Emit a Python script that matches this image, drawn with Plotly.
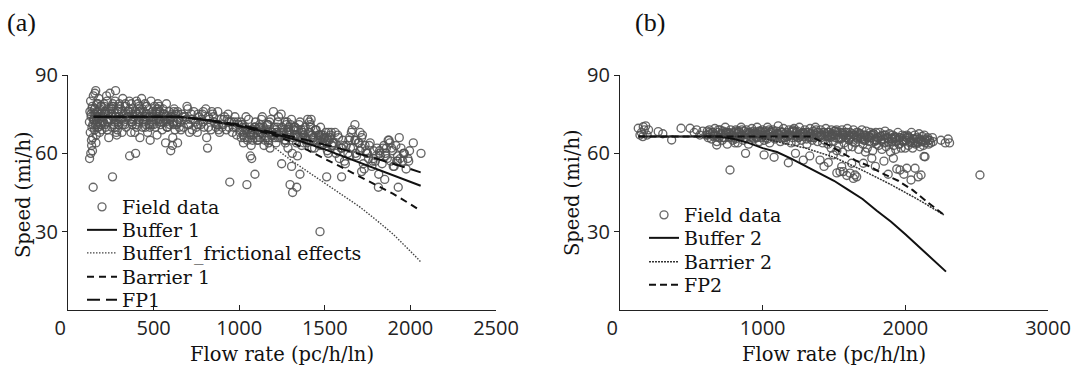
import plotly.graph_objects as go

# ---------------- data : panel (a) ----------------
flow_a = [
    125,128,130,132,135,138,140,142,145,148, 150,152,155,158,160,162,165,168,170,172,
    175,178,180,182,185,188,190,192,195,198, 126,133,137,143,147,153,157,163,167,173,
    205,210,215,220,225,230,235,240,245,250, 255,260,265,270,275,280,285,290,295,300,
    305,310,315,320,325,330,335,340,345,350, 208,218,228,238,248,258,268,278,288,298,
    212,232,252,272,292,312,332,242,262,282,
    355,360,365,370,375,380,385,390,395,400, 405,410,415,420,425,430,435,440,445,450,
    455,460,465,470,475,480,485,490,495,500, 505,510,515,520,525,530,535,540,545,550,
    555,560,565,570,575,580,585,590,595,600, 605,610,615,620,625,630,635,640,645,650,
    358,378,398,418,438,458,478,498,518,538, 558,578,598,618,638,368,408,448,488,528,
    568,608,372,412,452,492,532,572,612,642,
    655,665,675,685,695,705,715,725,735,745, 755,765,775,785,795,805,815,825,835,845,
    855,865,875,885,895,905,915,925,935,945, 955,965,975,985,995,660,690,720,750,780,
    810,840,870,900,930,960,990,700,760,820, 880,940,980,710,790,
    1005,1015,1025,1035,1045,1055,1065,1075,1085,1095, 1105,1115,1125,1135,1145,1155,1165,1175,1185,1195,
    1205,1215,1225,1235,1245,1255,1265,1275,1285,1295, 1305,1315,1325,1335,1345,1355,1365,1375,1385,1395,
    1405,1415,1425,1435,1445,1455,1465,1475,1485,1495, 1505,1515,1525,1535,1545,1010,1030,1050,1070,1090,
    1110,1130,1150,1170,1190,1210,1230,1250,1270,1290, 1310,1330,1350,1370,1390,1410,1430,1450,1470,1490,
    1510,1530,1020,1060,1100,1140,1180,1220,1260,1300, 1340,1380,1420,1460,1500,1540,1040,1080,1120,1160,
    1200,1240,1280,1320,1360,1400,1440,1480,1520,1550, 1045,1073,1092,1248,1297,1312,1336,1355,1306,1472,
    1555,1565,1575,1585,1595,1605,1615,1625,1635,1645, 1655,1665,1675,1685,1695,1705,1715,1725,1735,1745,
    1755,1765,1775,1785,1795,1805,1815,1825,1835,1845, 1855,1865,1875,1885,1895,1905,1915,1925,1935,1945,
    1955,1965,1975,1985,1995,1560,1600,1640,1680,1720, 1760,1800,1840,1880,1920,1960,1580,1620,1660,1700,
    1740,1780,1820,1860,1900,1940,1511,1598,1715,1813, 1929,2017,2062,1676,1706,1990,1870,1650,1730,1850,
    135,145,155,165,175,185,195,215,235,255, 275,295,315,335,355,375,395,415,435,455,
    475,495,515,535,555,575,595,615,635,
    1012,1038,1062,1088,1112,1138,1162,1188,1212,1238, 1262,1288,1312,1338,1362,1388,1412,1438,1462,1488,
    1512,1538,
    1018,1068,1118,1168,1218,1268,1318,1368,1418,1468, 1518,
    1028,1078,1128,1178,1228,1278,1328,1378,1428,1478,
    140,150,160,170,180,190,200,220,240,260, 280,300,320,340,360,380,400,420,440,460,
    480,500,520,540,560,580,600,620,640,
    670,700,730,760,790,820,850,880,910,940, 970,
    1005,1025,1048,1072,1095,1122,1145,1172,1195,1222, 1245,1272,1295,1322,1345,1372,1395,1422,1445,1472,
    1495,1522,1545,
    1575,1610,1645,1680,1715,1750,1785,1820,1855,1890, 1925,1960,
]
speed_a = [
    72,76,68,80,74,63,70,78,66,82, 73,75,69,77,71,84,67,79,74,72,
    76,70,81,73,68,77,75,71,78,69, 58,60,65,61,47,73,83,64,76,70,
    74,79,71,76,82,69,75,73,83,77, 70,51,78,72,80,74,67,76,71,79,
    73,77,68,81,75,72,78,70,74,76, 72,75,80,66,73,77,71,84,69,74,
    78,72,75,70,77,73,71,76,79,68,
    76,59,73,79,71,77,74,68,60,80, 75,72,78,66,74,81,70,76,73,79,
    71,75,68,77,74,65,80,72,76,73, 78,70,75,67,79,73,76,71,74,69,
    77,72,75,64,79,70,73,76,71,61, 74,63,72,77,69,75,71,64,73,70,
    80,75,71,77,73,78,70,74,76,72, 75,70,73,76,72,68,79,74,71,77,
    73,75,72,76,70,74,78,72,66,75,
    72,75,70,74,78,71,73,69,76,72, 68,74,71,75,70,77,62,73,69,75,
    72,70,76,68,73,71,74,69,75,49, 72,70,74,67,71,69,73,75,70,73,
    66,76,71,70,73,68,72,77,71,74, 69,72,70,68,76,
    68,71,64,70,66,73,59,69,67,72, 65,70,68,74,63,69,71,66,73,68,
    70,64,72,67,75,69,65,71,62,68, 73,66,70,64,69,72,63,67,70,65,
    68,71,62,66,69,64,67,70,63,66, 68,61,65,67,64,72,66,69,63,70,
    67,73,65,71,68,66,74,70,64,69, 60,67,71,68,65,72,66,69,63,67,
    64,66,70,68,66,70,62,68,67,71, 59,69,73,65,66,63,74,69,71,66,
    76,68,72,70,66,73,62,67,60,64, 48,58,52,56,48,45,47,52,55,30,
    64,60,67,58,62,65,57,63,60,66, 68,62,65,59,64,61,66,56,63,60,
    58,64,55,61,57,62,52,59,56,63, 60,58,65,57,61,55,63,59,66,62,
    57,60,54,58,61,68,62,65,60,67, 63,59,62,64,57,60,66,56,69,64,
    61,57,60,62,55,58,51,51,53,47, 47,64,60,71,68,57,65,62,54,50,
    75,71,77,73,79,72,74,76,73,78, 74,72,76,79,74,72,76,73,77,74,
    71,75,73,76,72,74,73,71,72,
    66,69,67,70,65,68,71,67,69,66, 68,70,65,67,69,66,68,65,67,64,
    66,68,
    71,67,70,65,68,72,69,66,70,67, 65,
    68,65,69,72,66,68,70,64,67,66,
    77,73,75,71,74,78,72,70,77,74, 73,78,71,75,77,73,70,76,72,78,
    74,71,77,73,75,70,74,72,76,
    74,71,73,75,72,70,74,71,73,70, 72,
    69,67,65,68,70,66,69,64,67,70, 68,65,67,69,66,68,64,67,69,65,
    66,68,63,
    61,63,59,65,62,60,58,61,59,62, 57,60,
]

buffer1_x = [150, 650, 800, 1000, 1200, 1350, 1500, 1650, 1800, 1950, 2060]
buffer1_y = [74, 74, 72.8, 70.5, 67.5, 64.8, 61.5, 57.8, 54.2, 50.5, 47.6]
fric1_x = [150, 650, 800, 1000, 1100, 1200, 1300, 1400, 1500, 1600, 1700, 1800, 1900, 2000, 2060]
fric1_y = [74, 74, 72.8, 70.5, 67.5, 62.5, 57.5, 53, 48.6, 44.2, 39.7, 34.5, 29, 22.5, 18.5]
barrier1_x = [150, 650, 800, 1000, 1200, 1300, 1400, 1500, 1600, 1700, 1800, 1900, 2000, 2060]
barrier1_y = [74, 74, 72.8, 70.5, 67, 64.5, 61.2, 58, 54.6, 51.2, 48, 44.5, 40.5, 38]
fp1_x = [150, 650, 800, 1000, 1200, 1400, 1600, 1800, 2000, 2060]
fp1_y = [74, 74, 73, 71, 68, 65, 61.6, 58, 54, 52.7]

# ---------------- data : panel (b) ----------------
flow_b = [
    128,140,150,160,163,170,180,190,200,268,300,362,428,491,520,537,560,580,
    603,612,618,627,634,641,650,656,665,671,679,688,694,702,709,717,723,731,738,746,752,761,767,775,782,790,797,
    805,812,820,826,834,841,849,856,864,871,879,886,894,901,909,916,924,931,939,946,954,961,969,976,984,991,998,
    1004,1011,1019,1026,1034,1041,1049,1056,1064,1071,1079,1086,1094,1101,1109,1116,1124,1131,1139,1146,1154,1161,1169,1176,1184,1191,1199,
    1205,1212,1220,1227,1235,1242,1250,1257,1265,1272,1280,1287,1295,1302,1310,1317,1325,1332,1340,1347,1355,1362,1370,1377,1385,1392,1399,
    1406,1413,1421,1428,1436,1443,1451,1458,1466,1473,1481,1488,1496,1503,1511,1518,1526,1533,1541,1548,1556,1563,1571,1578,1586,1593,1599,
    1606,1613,1621,1628,1636,1643,1651,1658,1666,1673,1681,1688,1696,1703,1711,1718,1726,1733,1741,1748,1756,1763,1771,1778,1786,1793,1799,
    1806,1813,1821,1828,1836,1843,1851,1858,1866,1873,1881,1888,1896,1903,1911,1918,1926,1933,1941,1948,1956,1963,1971,1978,1986,1993,1999,
    2006,2013,2021,2028,2036,2043,2051,2058,2066,2073,2081,2088,2096,2103,2111,2118,2126,2133,2141,2148,2156,2163,2171,2178,2190,2250,2280,2300,2310,
    625,660,690,720,745,770,800,830,855,880,905,935,960,990,1015,1045,1070,1100,1125,1150,
    1180,1210,1240,1265,1290,1320,1345,1375,1400,1430,1455,1480,1510,1535,1560,1590,1615,1640,1670,1695,
    1720,1750,1775,1800,1830,1855,1880,1910,1935,1960,1990,2020,2050,2080,2110,2140,1480,1520,1560,1600,
    678,771,806,880,1010,1080,1180,1230,1285,1330,1402,1430,1460,1495,1520,1542,1554,1565,1590,1612,1624,
    1636,1647,1659,1706,1720,1765,1790,1850,1880,1916,1940,1963,1990,2010,2040,2068,2090,2110,2131,2138,2523,
    708,733,758,783,808,833,858,883,908,933, 958,983,1008,1033,1058,1083,1108,1133,1158,1183,
    1208,1233,1258,1283,1308,1333,1358,1383,1408,1433, 1458,1483,1508,1533,1558,1583,1608,1633,1658,1683,
    1708,1733,1758,1783,1808,1833,1858,1883,1908,1933, 1958,1983,2008,2033,2058,2083,
    615,650,680,715,740,765,790,815,845,870, 895,920,950,975,1000,1030,1055,1085,1110,1140,
    1165,1195,1220,1250,1275,1300,1330,1355,1385,1410, 1440,1465,1495,1520,1550,1575,1605,1630,1660,1685,
    1715,1740,1770,1795,1825,1850,1875,1905,1930,1955, 1985,2015,2045,2070,2100,2125,2160,2195,
]
speed_b = [
    69.6,67,68,66.4,70.2,69,70.5,67,69,68.3,67.5,65.1,69.6,69.6,68,69,67,68.5,
    67,68.5,66,69,67.5,65.5,68,66.5,69.5,67,64.5,68,66,69,67,65,68.5,66,70,67.5,63.5,68,66.5,69,67,65,68,
    66,69,67.5,64,68,66.5,70,67,65,68.5,66,69,67,63.5,68,66.5,69.5,67,65.5,68,66,70,67.5,64.5,68.5,66,69,
    67,65,68.5,66,70,67.5,64,68,66.5,69,67,65.5,68.5,66,70.5,67,64.5,68,66,69.5,67.5,65,68,66.5,69,67,64,
    68,66,69.5,67,64.5,68.5,66,70,67.5,65,68,66.5,69,67,63.5,68,66,69.5,67.5,65,68.5,66,70,67,64.5,68,66.5,
    69,67,64,68,66.5,69.5,67,63.5,68,66,69,67.5,64.5,68.5,66,69,67,63,68,65.5,69,67,64,68,66,69.5,67,
    65,68,66.5,62.5,69,67,64,68,65.5,61.5,67.5,66,69,63.5,67,65,68.5,62,66.5,64.5,68,66,61,67.5,65,68,63.5,
    66,63,68,65,61.5,67,64,68.5,62.5,66,64.5,67.5,60.5,65.5,67,63,66.5,61.5,65,68,63.5,66,62,67,64.5,66.5,62,
    65,67,63,66,64.5,68,62,65.5,67,63.5,66,64,67.5,62.5,65,66.5,63,67,64,65.5,66,63.5,65,64,66,65,64,65.5,64,
    68,67,69,66,68,67.5,66.5,68,69,66,67.5,68.5,66,67,68,69,66.5,67.5,68.5,66,
    67,69,68,66.5,67.5,68,66,69,67,68,66.5,67,68.5,66,67.5,68,66,67,68,65.5,
    67,66,67.5,65,66.5,67,65.5,66,64.5,66,65,66.5,64,65.5,64.5,65,62,61,60.5,62.5,
    63.2,53.6,64,60,59.4,58.5,56.4,60,57.4,59,57.4,55,56.5,59.4,52.5,53,54.9,53,51.5,52.4,56.2,
    50.4,51.7,51,56.2,60.5,58.1,55,57,52,58.1,54,53.6,52,54.3,49.8,54.3,51,51.7,58.8,58.7,51.7,
    67.5,66,68,67,65.5,68.5,67,66,68,67.5, 66.5,68,67,65.5,68.5,66.5,67.5,68,66,67,
    68.5,66.5,67,68,65.5,67.5,66,68,67,65, 68,66.5,67,65.5,68,66,67,64.5,66.5,67.5,
    65,66,67,64.5,66,65,67,64,65.5,66, 63.5,65,66,64,65.5,64.5,
    67,68,66.5,67.5,68,66,67.5,68.5,66.5,67, 68,66,67.5,68.5,66.5,67,68,66,67.5,68,
    66.5,67,68.5,66,67.5,68,66.5,67,68,66, 67.5,66.5,67,68,66,67,65.5,67.5,66,67,
    65.5,66.5,67,65,66.5,65.5,66,64.5,66,65.5, 64.5,66,65,64,65.5,64.5,65,64.5,
]

buffer2_x = [130, 700, 800, 900, 1000, 1100, 1200, 1300, 1400, 1500, 1600, 1700, 1800, 1900, 2000, 2100, 2200, 2285]
buffer2_y = [66.4, 66.4, 65.5, 64, 62, 60.5, 58, 55.2, 52.4, 49.5, 46, 42.5, 38, 33.8, 29, 24, 19.2, 14.7]
barrier2_x = [130, 950, 1100, 1300, 1500, 1700, 1900, 2100, 2270]
barrier2_y = [66.4, 66.4, 64.5, 62, 58.5, 53.5, 48, 42, 36.4]
fp2_x = [130, 1340, 1450, 1550, 1650, 1750, 1850, 1950, 2050, 2150, 2275]
fp2_y = [66.4, 66.4, 63.5, 60.5, 57.3, 55, 52, 49.5, 46, 41.5, 36.3]

x_ticks_a = [0, 500, 1000, 1500, 2000, 2500]
x_ticks_b = [0, 1000, 2000, 3000]
y_ticks = [30, 60, 90]

# ---------------- figure ----------------
W, H = 1073, 376
def fx(p):
    return p / W
def fy(p):
    return 1 - p / H

SERIF = "DejaVu Serif"
SANS = "Open Sans"
INK = "#111111"
marker_style = dict(symbol="circle-open", size=8, color="rgba(82,82,82,0.88)", line=dict(width=1.35))

fig = go.Figure()

leg_a_rows = [207, 230, 253, 277, 300]
leg_b_rows = [215, 238, 262, 285]

traces = [
    dict(x=flow_a, y=speed_a, mode="markers", name="Field data", marker=marker_style, xaxis="x", yaxis="y"),
    dict(x=buffer1_x, y=buffer1_y, mode="lines", name="Buffer 1", line=dict(color=INK, width=2), xaxis="x", yaxis="y"),
    dict(x=fric1_x, y=fric1_y, mode="lines", name="Buffer1_frictional effects",
         line=dict(color="#444", width=1.4, dash="1.5px,1.5px"), xaxis="x", yaxis="y"),
    dict(x=barrier1_x, y=barrier1_y, mode="lines", name="Barrier 1",
         line=dict(color=INK, width=2, dash="7px,5px"), xaxis="x", yaxis="y"),
    dict(x=fp1_x, y=fp1_y, mode="lines", name="FP1", line=dict(color=INK, width=2, dash="13px,6px"),
         xaxis="x", yaxis="y"),
    dict(x=flow_b, y=speed_b, mode="markers", name="Field data", marker=marker_style, xaxis="x2", yaxis="y2"),
    dict(x=buffer2_x, y=buffer2_y, mode="lines", name="Buffer 2", line=dict(color=INK, width=2),
         xaxis="x2", yaxis="y2"),
    dict(x=barrier2_x, y=barrier2_y, mode="lines", name="Barrier 2",
         line=dict(color="#333", width=1.5, dash="2px,1px"), xaxis="x2", yaxis="y2"),
    dict(x=fp2_x, y=fp2_y, mode="lines", name="FP2", line=dict(color=INK, width=2, dash="7px,4px"),
         xaxis="x2", yaxis="y2"),
]

legend_layout = {}
leg_font = dict(family=SERIF, size=19, color=INK)
for i, t in enumerate(traces):
    key = "legend" if i == 0 else "legend%d" % (i + 1)
    if i < 5:
        lx, ly = 82, leg_a_rows[i]
    else:
        lx, ly = 644, leg_b_rows[i - 5]
    legend_layout[key] = dict(x=fx(lx), y=fy(ly), xanchor="left", yanchor="middle",
                              bgcolor="rgba(0,0,0,0)", font=leg_font, borderwidth=0)
    fig.add_trace(go.Scatter(**t, legend=key))

NB = "\u00a0\u00a0\u00a0"
xa_common = dict(showgrid=False, zeroline=False, showline=True, linecolor="#222", linewidth=1.3,
                 ticks="inside", ticklen=5, tickcolor="#222", tickwidth=1.2,
                 tickfont=dict(family=SANS, size=20, color="#222"))
ya_common = dict(showgrid=False, zeroline=False, showline=True, linecolor="#222", linewidth=1.3,
                 ticks="outside", ticklen=5, tickcolor="#222", tickwidth=1.2, range=[0, 90],
                 tickvals=y_ticks, ticktext=[str(v) for v in y_ticks],
                 tickfont=dict(family=SANS, size=20, color="#222"),
                 domain=[fy(310), fy(75)])

fig.update_layout(
    width=W, height=H, margin=dict(l=0, r=0, t=0, b=0, pad=0, autoexpand=False),
    paper_bgcolor="white", plot_bgcolor="white",
    xaxis=dict(xa_common, domain=[fx(68), fx(496)], range=[0, 2500], anchor="y",
               tickvals=x_ticks_a, ticktext=[(str(v) + NB if v == 0 else str(v)) for v in x_ticks_a]),
    yaxis=dict(ya_common, anchor="x"),
    xaxis2=dict(xa_common, domain=[fx(620), fx(1048)], range=[0, 3000], anchor="y2",
                tickvals=x_ticks_b, ticktext=[(str(v) + NB if v == 0 else str(v)) for v in x_ticks_b]),
    yaxis2=dict(ya_common, anchor="x2"),
    showlegend=True,
    **legend_layout,
)

title_font = dict(family=SERIF, size=19.5, color=INK)
fig.add_annotation(text="Flow rate (pc/h/ln)", xref="paper", yref="paper", x=fx(282), y=fy(354),
                   showarrow=False, font=title_font, xanchor="center", yanchor="middle")
fig.add_annotation(text="Flow rate (pc/h/ln)", xref="paper", yref="paper", x=fx(834), y=fy(354),
                   showarrow=False, font=title_font, xanchor="center", yanchor="middle")
fig.add_annotation(text="Speed (mi/h)", xref="paper", yref="paper", x=fx(24), y=fy(195), textangle=-90,
                   showarrow=False, font=title_font, xanchor="center", yanchor="middle")
fig.add_annotation(text="Speed (mi/h)", xref="paper", yref="paper", x=fx(572), y=fy(193), textangle=-90,
                   showarrow=False, font=title_font, xanchor="center", yanchor="middle")
panel_font = dict(family="Liberation Serif", size=26, color=INK)
fig.add_annotation(text="(a)", xref="paper", yref="paper", x=fx(5), y=fy(22), showarrow=False,
                   font=panel_font, xanchor="left", yanchor="middle")
fig.add_annotation(text="(b)", xref="paper", yref="paper", x=fx(633), y=fy(22), showarrow=False,
                   font=panel_font, xanchor="left", yanchor="middle")

fig.write_html("out.html", post_script="document.body.style.margin='0';",
               config={"displayModeBar": False})
